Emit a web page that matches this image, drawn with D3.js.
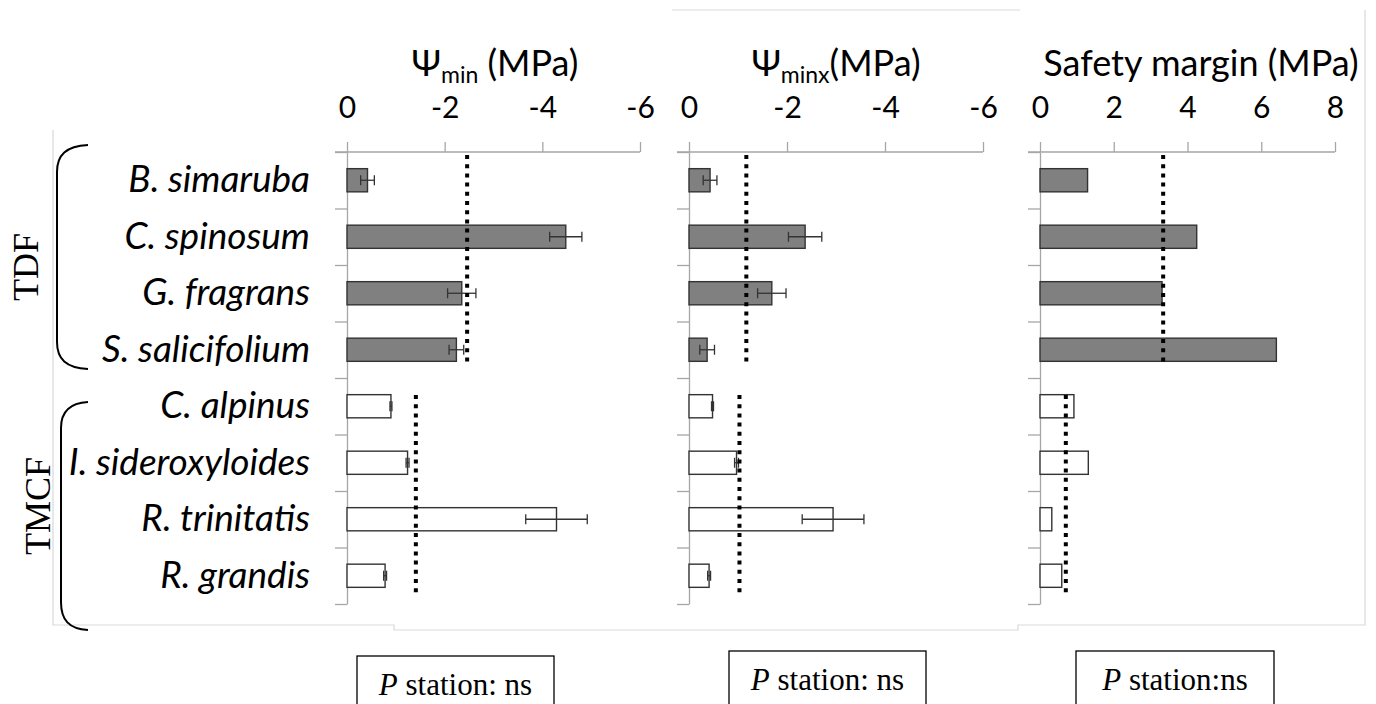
<!DOCTYPE html>
<html><head><meta charset="utf-8">
<script src="https://cdn.jsdelivr.net/npm/d3@7"></script>
<style>body{margin:0;background:#fff;}svg{display:block;}</style>
</head><body>
<svg id="c" width="1376" height="704"></svg>
<script>
// ---------------- data ----------------
const species = ["B. simaruba","C. spinosum","G. fragrans","S. salicifolium","C. alpinus","I. sideroxyloides","R. trinitatis","R. grandis"];
const forest  = ["TDF","TDF","TDF","TDF","TMCF","TMCF","TMCF","TMCF"];
const groups  = ["TDF","TMCF"];
const psiMin      = [-0.42,-4.48,-2.35,-2.24,-0.90,-1.24,-4.29,-0.78];
const psiMinErr   = [0.14,0.33,0.29,0.15,0.02,0.03,0.63,0.03];
const psiMinMean  = [-2.46,-1.41];
const psiMinx     = [-0.43,-2.37,-1.69,-0.37,-0.48,-0.97,-2.94,-0.41];
const psiMinxErr  = [0.14,0.34,0.29,0.15,0.02,0.04,0.63,0.03];
const psiMinxMean = [-1.17,-1.03];
const safety      = [1.29,4.25,3.31,6.41,0.92,1.31,0.32,0.59];
const safetyMean  = [3.34,0.70];
const psiTicks    = [0,-2,-4,-6];
const safetyTicks = [0,2,4,6,8];
const pLabels     = ["station: ns","station: ns","station:ns"];

// ---------------- layout ----------------
const svg = d3.select("#c");
const SANS = "Lato, 'Open Sans', sans-serif";
const SERIF = "'Liberation Serif', 'DejaVu Serif', serif";
const plotTop = 152, plotBottom = 604;

const y = d3.scaleBand().domain(species).range([plotTop, plotBottom]).paddingInner(0.59).paddingOuter(0.295);
const yBound = d3.scaleLinear().domain([0, species.length]).range([plotTop, plotBottom]);

// faint chart frames
const frame = svg.append("g").attr("stroke","#d9d9d9").attr("stroke-width",1.2).attr("fill","none");
frame.append("path").attr("d","M53,130V625H394V630H1018V625H1365V10");
frame.append("path").attr("d","M672,10H1020");

const panels = [
  {x0:347, x1:640, dom:[0,-6], ticks:psiTicks, vals:psiMin, err:psiMinErr, mean:psiMinMean, title:["Ψ","min"," (MPa)"], tx:495, box:[357,656,197]},
  {x0:689, x1:983, dom:[0,-6], ticks:psiTicks, vals:psiMinx, err:psiMinxErr, mean:psiMinxMean, title:["Ψ","minx","(MPa)"], tx:836, box:[729,651,197]},
  {x0:1040, x1:1335, dom:[0,8], ticks:safetyTicks, vals:safety, err:null, mean:safetyMean, title:["Safety margin (MPa)"], tx:1201, box:[1076,651,198]}
];

panels.forEach((p, pi) => {
  const g = svg.append("g");
  const x = d3.scaleLinear().domain(p.dom).range([p.x0, p.x1]);

  // category axis (boundary ticks)
  const ca = g.append("g").attr("transform",`translate(${p.x0},0)`)
    .call(d3.axisLeft(yBound).tickValues(d3.range(0, species.length+1)).tickFormat("").tickSize(12).tickSizeOuter(0));
  ca.selectAll("path,line").attr("stroke","#a6a6a6").attr("stroke-width",1.3);

  // value axis on top
  const va = g.append("g").attr("transform",`translate(0,${plotTop})`)
    .call(d3.axisTop(x).tickValues(p.ticks).tickFormat(d => String(d)).tickSize(10).tickSizeOuter(0).tickPadding(24));
  va.select(".domain").attr("d", `M${p.x0-12},0H${p.x1}`);
  va.selectAll("path,line").attr("stroke","#a6a6a6").attr("stroke-width",1.3);
  va.selectAll("text").attr("font-family",SANS).attr("font-size",30).attr("fill","#000");

  // bars
  g.selectAll("rect.bar").data(species).join("rect")
    .attr("x", (d,i) => Math.min(x(0), x(p.vals[i])))
    .attr("y", d => y(d))
    .attr("width", (d,i) => Math.abs(x(p.vals[i]) - x(0)))
    .attr("height", y.bandwidth())
    .attr("fill", (d,i) => forest[i] === "TDF" ? "#808080" : "#ffffff")
    .attr("stroke", "#333").attr("stroke-width", 1.4);

  // error bars
  if (p.err) {
    const eb = g.append("g").attr("stroke","#333").attr("stroke-width",1.3);
    species.forEach((s,i) => {
      const cy = y(s) + y.bandwidth()/2;
      const a = x(p.vals[i] + p.err[i]), b = x(p.vals[i] - p.err[i]);
      eb.append("line").attr("x1",a).attr("x2",b).attr("y1",cy).attr("y2",cy);
      eb.append("line").attr("x1",a).attr("x2",a).attr("y1",cy-5).attr("y2",cy+5);
      eb.append("line").attr("x1",b).attr("x2",b).attr("y1",cy-5).attr("y2",cy+5);
    });
  }

  // group mean dotted lines
  groups.forEach((gr, gi) => {
    const idx = forest.map((f,i)=>f===gr?i:-1).filter(i=>i>=0);
    const gTop = yBound(idx[0]), gBot = yBound(idx[idx.length-1]+1);
    const y0 = gi === 0 ? gTop + 3 : gTop + 17;
    const y1 = gi === 0 ? gBot - 12 : gBot - 7;
    g.append("line").attr("x1", x(p.mean[gi])).attr("x2", x(p.mean[gi]))
      .attr("y1", y0).attr("y2", y1)
      .attr("stroke","#000").attr("stroke-width",4).attr("stroke-dasharray","4,5.2");
  });

  // title
  const t = g.append("text").attr("x", p.tx).attr("y", 76).attr("text-anchor","middle")
    .attr("font-family", SANS).attr("font-size", 36).attr("fill","#000");
  if (p.title.length === 1) {
    t.text(p.title[0]);
  } else {
    t.append("tspan").text(p.title[0]);
    t.append("tspan").attr("font-size",23).attr("dy",7).text(p.title[1]);
    t.append("tspan").attr("dy",-7).text(p.title[2]);
  }

  // P station box
  const [bx, by, bw] = p.box;
  g.append("rect").attr("x",bx).attr("y",by).attr("width",bw).attr("height",70)
    .attr("fill","#fff").attr("stroke","#000").attr("stroke-width",1.3);
  const pt = g.append("text").attr("x", bx + bw/2).attr("y", by + 39).attr("text-anchor","middle")
    .attr("font-family", SERIF).attr("font-size", 31).attr("fill","#000");
  pt.append("tspan").attr("font-style","italic").text("P");
  pt.append("tspan").text(" " + pLabels[pi]);
});

// species labels
svg.append("g").selectAll("text").data(species).join("text")
  .attr("x", 310).attr("y", d => y(d) + y.bandwidth()/2 + 12)
  .attr("text-anchor","end").attr("font-family",SANS).attr("font-style","italic")
  .attr("font-size",37).attr("fill","#000").text(d => d);

// braces + group labels
const br = svg.append("g").attr("fill","none").attr("stroke","#000").attr("stroke-width",2);
br.append("path").attr("d","M88,145C66,146 57,155 57,172V342C57,359 66,368 88,369");
br.append("path").attr("d","M88,402C69,403 61,412 61,428V602C61,620 69,629 88,630");
svg.append("text").attr("transform","translate(38,267) rotate(-90)").attr("text-anchor","middle")
  .attr("font-family",SERIF).attr("font-size",36).attr("fill","#000").text("TDF");
svg.append("text").attr("transform","translate(50,506) rotate(-90)").attr("text-anchor","middle")
  .attr("font-family",SERIF).attr("font-size",36).attr("fill","#000").text("TMCF");
</script>
</body></html>
